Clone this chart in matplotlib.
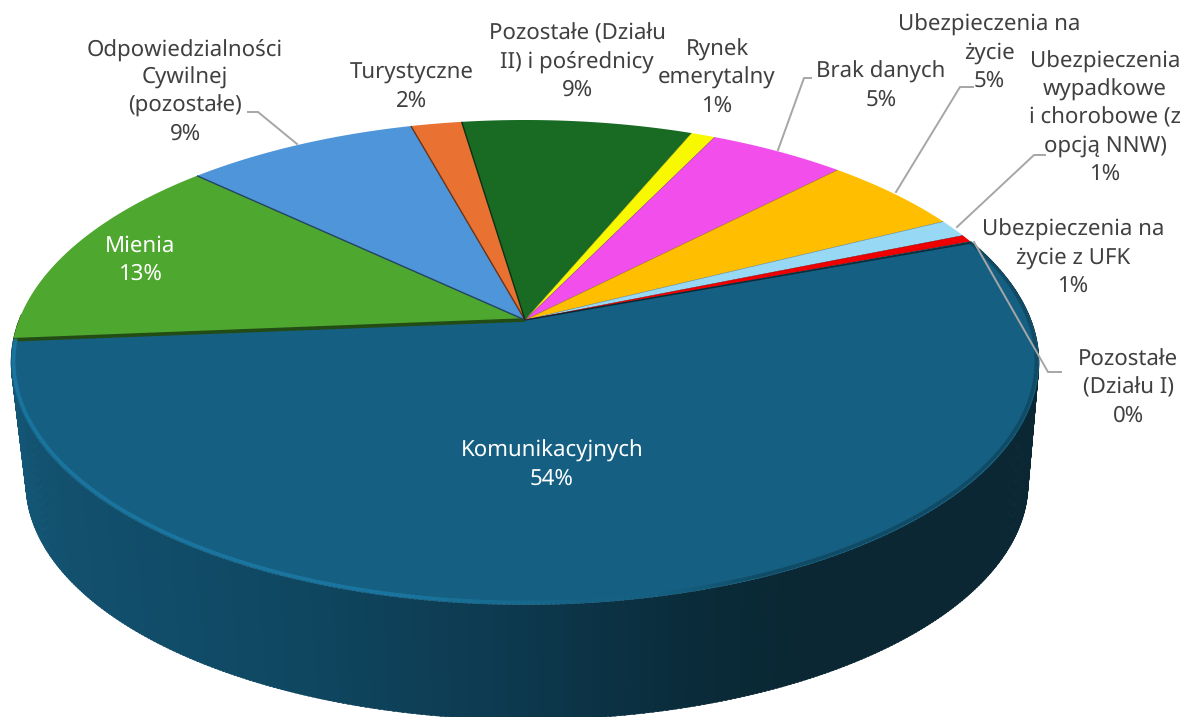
import numpy as np
import matplotlib
matplotlib.use("Agg")
import matplotlib.pyplot as plt
from matplotlib.collections import PolyCollection, LineCollection
from matplotlib.colors import to_rgb

plt.rcParams["text.hinting"] = "none"
plt.rcParams["text.hinting_factor"] = 1

# ---------- data ----------
categories = ["Komunikacyjnych", "Mienia", "Odpowiedzialności\nCywilnej\n(pozostałe)", "Turystyczne",
              "Pozostałe (Działu\nII) i pośrednicy", "Rynek\nemerytalny", "Brak danych",
              "Ubezpieczenia na\nżycie", "Ubezpieczenia\nwypadkowe\ni chorobowe (z\nopcją NNW)",
              "Ubezpieczenia na\nżycie z UFK", "Pozostałe\n(Działu I)"]
shares = [54.4, 13.4, 8.7, 1.9, 8.6, 0.9, 5.1, 5.3, 1.2, 0.5, 0.1]

# ---------- style / layout ----------
colors = ["#156082", "#4EA72E", "#4E95D9", "#E97132", "#196B24", "#F8F800", "#F14EEC",
          "#FFBF00", "#97D9F5", "#EE0000", "#0F4761"]
edge_w = [1.0, 2.6, 1.0, 1.0, 1.0, 0.3, 0.3, 0.3, 0.3, 0.3, 0.3]
label_xy = [(552, 465), (140, 260), (185, 92), (412, 87), (577, 62), (717, 78), (881, 86),
            (989, 53), (1105, 118), (1073, 258), (1128, 388)]
label_col = ["white", "white"] + ["#404040"] * 9
leaders = [([248, 258, 297], [112, 112, 144]),
           ([811, 804, 778], [78, 78, 150]),
           ([973, 960, 896], [87, 87, 192]),
           ([1045, 1034, 957], [155, 155, 227]),
           ([1061, 1048, 974], [372, 372, 242])]
START = 69.6
CX, CY, A, B, K = 525.0, 320.0, 506.0, 235.0, 0.175
WALL_S, WALL_DX, WALL_DY = 0.975, 2.0, 122.0


def proj(theta_deg, s=1.0, dx=0.0, dy=0.0):
    t = np.radians(theta_deg)
    x, y = np.sin(t), -np.cos(t)
    w = 1 - K * y
    return CX + dx + s * A * x / w, CY + dy + s * B * y / w


def dark(c, f):
    return tuple(v * f for v in to_rgb(c))


fig = plt.figure(figsize=(11.9, 7.17), dpi=100)
ax = fig.add_axes([0, 0, 1, 1])
ax.set_xlim(0, 1190)
ax.set_ylim(717, 0)
ax.axis("off")

vals = np.array(shares, dtype=float)
edges = START + np.concatenate([[0], np.cumsum(vals / vals.sum() * 360)])

# side wall
wx = [0, 60, 300, 500, 700, 800, 1190]
wc = np.array([to_rgb(c) for c in ["#155A7C", "#12516F", "#0F4761", "#0D3A50", "#0A2B39", "#0A2733", "#0A2733"]])
polys, pcs = [], []
for i in [1, 0]:
    if i == 1:
        ths = np.linspace(edges[1], edges[1] + 6, 12)
    else:
        ths = np.linspace(edges[0], edges[1], 420)
    for a, b in zip(ths[:-1], ths[1:]):
        x1, y1 = proj(a)
        x2, y2 = proj(b + 0.2)
        x3, y3 = proj(b + 0.2, WALL_S, WALL_DX, WALL_DY)
        x4, y4 = proj(a, WALL_S, WALL_DX, WALL_DY)
        polys.append([(x1, y1), (x2, y2), (x3, y3), (x4, y4)])
        if i == 1:
            pcs.append(dark(colors[1], 0.45))
        else:
            xm = (x3 + x4) / 2
            pcs.append(tuple(np.interp(xm, wx, wc[:, k]) for k in range(3)))
ax.add_collection(PolyCollection(polys, facecolors=pcs, edgecolors=pcs, linewidths=0.4))

# top faces
for i, c in enumerate(colors):
    th = np.linspace(edges[i], edges[i + 1], max(3, int((edges[i + 1] - edges[i]) * 4)))
    X, Y = proj(th)
    ax.fill(np.r_[CX, X], np.r_[CY, Y], color=c, lw=0, zorder=3)

# boundary shadows
for i, c in enumerate(colors):
    X, Y = proj(edges[i])
    col = dark(c, 0.45)
    ax.plot([CX, X], [CY, Y], color=col, lw=edge_w[i], zorder=4, solid_capstyle="butt")

# rim highlight / shade on the first slice
th = np.linspace(edges[0], edges[1], 500)
X, Y = proj(th, 0.995, 0, -1)
segs = np.stack([np.c_[X[:-1], Y[:-1]], np.c_[X[1:], Y[1:]]], axis=1)
xm = (X[:-1] + X[1:]) / 2
hi = np.clip((600 - xm) / 200, 0, 1)
lo = np.clip((xm - 560) / 200, 0, 1)
rgba = np.zeros((len(xm), 4))
rgba[:, :3] = to_rgb("#1B7BA6") * (1 - lo)[:, None] + np.array(to_rgb("#0E3F55")) * lo[:, None]
rgba[:, 3] = np.maximum(hi * 0.85, lo * 0.65)
ax.add_collection(LineCollection(segs, colors=rgba, linewidths=2.6, zorder=5))

# leader lines
for lx, ly in leaders:
    ax.plot(lx, ly, color="#A6A6A6", lw=1.4, zorder=6, solid_joinstyle="miter")

# labels
for name, v, (x, y), c in zip(categories, shares, label_xy, label_col):
    ax.text(x, y, f"{name}\n{int(v + 0.5)}%", ha="center", va="center", color=c,
            fontsize=16, family="Noto Sans", linespacing=1.35, zorder=7)

fig.savefig("out.png", dpi=100)
